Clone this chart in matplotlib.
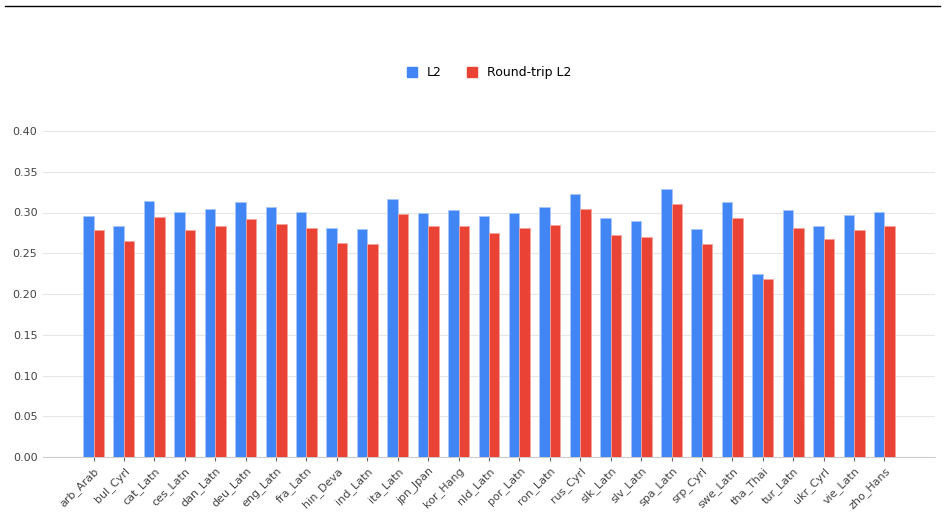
import matplotlib
matplotlib.use("Agg")
import matplotlib.pyplot as plt
import numpy as np
from matplotlib.lines import Line2D
from matplotlib.patches import Patch

categories = ["arb_Arab", "bul_Cyrl", "cat_Latn", "ces_Latn", "dan_Latn", "deu_Latn",
              "eng_Latn", "fra_Latn", "hin_Deva", "ind_Latn", "ita_Latn", "jpn_Jpan",
              "kor_Hang", "nld_Latn", "por_Latn", "ron_Latn", "rus_Cyrl", "slk_Latn",
              "slv_Latn", "spa_Latn", "srp_Cyrl", "swe_Latn", "tha_Thai", "tur_Latn",
              "ukr_Cyrl", "vie_Latn", "zho_Hans"]
l2 = [0.296, 0.284, 0.314, 0.301, 0.304, 0.313, 0.307, 0.301, 0.281, 0.280,
      0.317, 0.299, 0.303, 0.296, 0.300, 0.307, 0.323, 0.293, 0.290, 0.329,
      0.280, 0.313, 0.224, 0.303, 0.284, 0.297, 0.301]
roundtrip_l2 = [0.279, 0.265, 0.294, 0.279, 0.284, 0.292, 0.286, 0.281, 0.262, 0.261,
                0.298, 0.283, 0.284, 0.275, 0.281, 0.285, 0.304, 0.273, 0.270, 0.310,
                0.261, 0.293, 0.219, 0.281, 0.268, 0.278, 0.284]
series_names = ["L2", "Round-trip L2"]
yticks = [0.00, 0.05, 0.10, 0.15, 0.20, 0.25, 0.30, 0.35, 0.40]

blue = "#4285f4"
red = "#ea4335"

fig = plt.figure(figsize=(9.48, 5.14), dpi=100)
ax = fig.add_axes([43/948, 1-457/514, (935-43)/948, (457-131)/514])

x = np.arange(len(categories))
w = 0.345
ax.bar(x - w/2, l2, width=w, color=blue, edgecolor="#a8c7fa", linewidth=0.6, zorder=3)
ax.bar(x + w/2, roundtrip_l2, width=w, color=red, edgecolor="#f5a29a", linewidth=0.6, zorder=3)

ax.set_xlim(-1.66, len(categories) - 1 + 1.66)
ax.set_ylim(0, 0.40)
ax.set_yticks(yticks)
ax.set_yticklabels([f"{v:.2f}" for v in yticks], fontsize=8, color="#444444")
ax.yaxis.grid(True, color="#e6e6e6", linewidth=0.8, zorder=0)
ax.tick_params(axis="y", length=0, pad=4)
ax.set_xticks(x)
ax.set_xticklabels(categories, rotation=45, ha="right", rotation_mode="anchor",
                   fontsize=8, color="#444444")
ax.tick_params(axis="x", length=3, color="#666666", pad=3)
for s in ["top", "right", "left"]:
    ax.spines[s].set_visible(False)
ax.spines["bottom"].set_color("#cccccc")
ax.set_axisbelow(True)

handles = [Patch(color=blue), Patch(color=red)]
fig.legend(handles, series_names, loc="center", bbox_to_anchor=(489/948, 1-73/514),
           ncol=2, frameon=False, fontsize=9, handlelength=0.8, handleheight=0.8,
           columnspacing=2.0, handletextpad=0.8)

fig.add_artist(Line2D([5/948, 940/948], [1-6/514, 1-6/514], color="black", linewidth=1))

fig.savefig("out.png", dpi=100)
